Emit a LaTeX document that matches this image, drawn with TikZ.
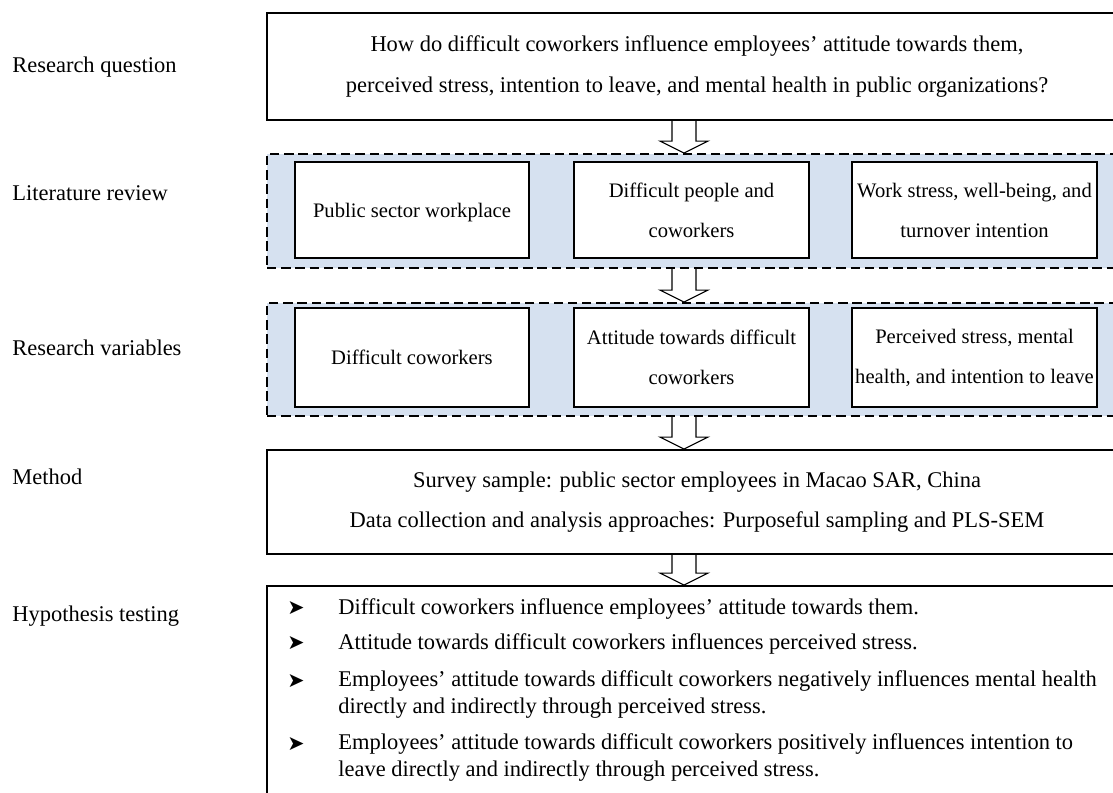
\documentclass[tikz,border=0pt]{standalone}
\usepackage{fontspec}
\setmainfont{Liberation Serif}
\newfontfamily\dingfont{DejaVu Sans}
\usetikzlibrary{calc}
\definecolor{panelblue}{RGB}{214,225,240}
\def\px{0.534pt}

\begin{document}
\begin{tikzpicture}[x=0.534pt,y=-0.534pt,
    every node/.style={font=\fontsize{12}{21.4}\selectfont},
    box/.style n args={2}{draw, line width=1pt, fill=white, inner sep=0pt, align=center, minimum width=#1*\px, minimum height=#2*\px},
    panel/.style n args={2}{draw, line width=1pt, dash pattern=on 5pt off 2.6pt, fill=panelblue, minimum width=#1*\px, minimum height=#2*\px},
    small/.style={font=\fontsize{11}{21.4}\selectfont},
    lbl/.style={anchor=base west, inner sep=0pt},
    blockarr/.style={draw, line width=0.6pt}]
  \useasboundingbox (0,0) rectangle (1113,792);

  % stage labels
  \node[lbl] (lq) at (12,72) {Research question};
  \node[lbl] (ll) at (12,200) {Literature review};
  \node[lbl] (lv) at (12,355) {Research variables};
  \node[lbl] (lm) at (12,484) {Method};
  \node[lbl] (lh) at (12,621) {Hypothesis testing};

  % stages
  \node[box={860}{107}] (q) at (697,66.5) {How do difficult coworkers influence employees' attitude towards them,\\perceived stress, intention to leave, and mental health in public organizations?};
  \node[panel={860}{114}] (lit) at (697,211) {};
  \node[box={234}{96}, small, text depth=0pt] (lit1) at (412,210) {Public sector workplace};
  \node[box={235}{96}, small] (lit2) at (691.5,210) {Difficult people and\\coworkers};
  \node[box={245}{96}, small] (lit3) at (974.5,210) {Work stress, well-being, and\\turnover intention};
  \node[panel={860}{113}] (var) at (697,359.5) {};
  \node[box={234}{99}, small] (var1) at (412,357.5) {Difficult coworkers};
  \node[box={235}{99}, small] (var2) at (691.5,357.5) {Attitude towards difficult\\coworkers};
  \node[box={245}{99}, small] (var3) at (974.5,357.5) {Perceived stress, mental\\health, and intention to leave};
  \node[box={860}{104}] (meth) at (697,502) {Survey sample: public sector employees in Macao SAR, China\\Data collection and analysis approaches: Purposeful sampling and PLS-SEM};
  \node[box={860}{228}] (hyp) at (697,700) {};

  % block arrows between stages
  \coordinate (ax) at (684,0);
  \foreach \a/\b in {q/lit, lit/var, var/meth, meth/hyp}
    \draw[blockarr] ($(\a.south -| ax)+(-12,0)$) -- ($(\b.north -| ax)+(-12,-12)$) -- ($(\b.north -| ax)+(-24,-12)$)
      -- (\b.north -| ax) -- ($(\b.north -| ax)+(24,-12)$) -- ($(\b.north -| ax)+(12,-12)$) -- ($(\a.south -| ax)+(12,0)$);

  % hypotheses (bullet baseline / last text baseline)
  \foreach \yb/\yt/\t [count=\i] in {614/614/{Difficult coworkers influence employees' attitude towards them.},
      649/649/{Attitude towards difficult coworkers influences perceived stress.},
      687/713/{Employees' attitude towards difficult coworkers negatively influences mental health\\directly and indirectly through perceived stress.},
      750/776/{Employees' attitude towards difficult coworkers positively influences intention to\\leave directly and indirectly through perceived stress.}} {
    \node[lbl, font=\dingfont\fontsize{11}{13}\selectfont] (b\i) at (287,\yb) {➤};
    \node[lbl, align=left, font=\fontsize{12}{13.9}\selectfont] (h\i) at (338,\yt) {\t};
  }
\end{tikzpicture}
\end{document}
